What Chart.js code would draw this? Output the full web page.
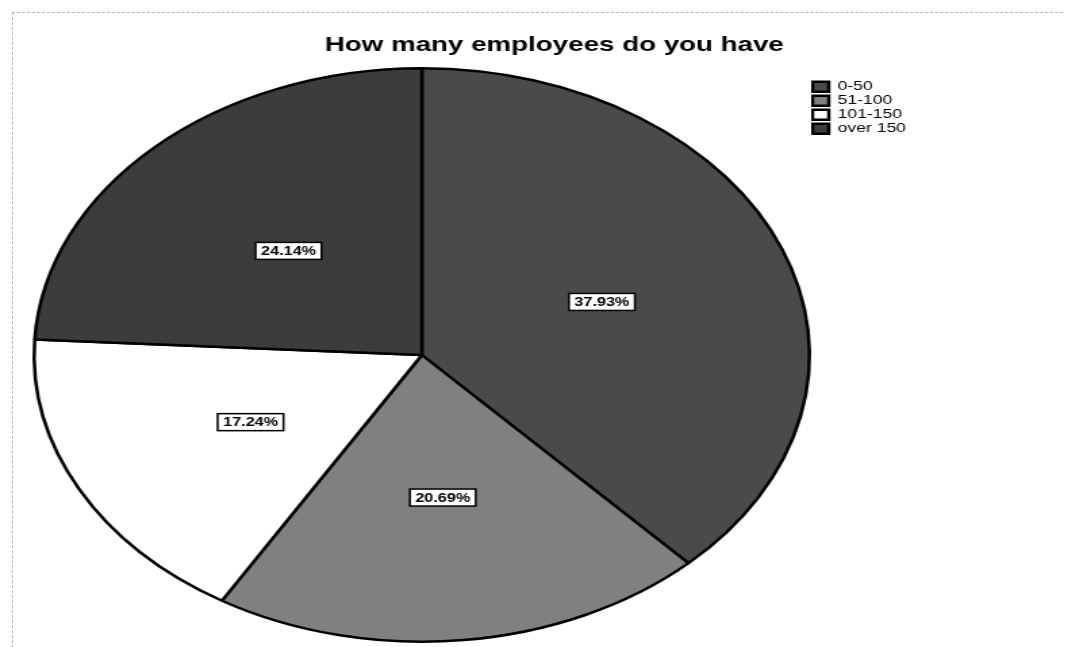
<!DOCTYPE html>
<html>
<head>
<meta charset="utf-8">
<script src="https://cdn.jsdelivr.net/npm/chart.js@4/dist/chart.umd.min.js"></script>
<style>
  html, body { margin: 0; padding: 0; background: #fff; overflow: hidden; }
  #frame {
    position: absolute; left: 12px; top: 12px; width: 1060px; height: 640px;
    border-top: 1px dashed #b5b5b5; border-left: 1px dashed #b5b5b5;
  }
  /* the source picture is stretched sideways, so the whole chart is too */
  #wrap {
    position: absolute; left: 0; top: 0; width: 788px; height: 647px;
    transform: scaleX(1.352); transform-origin: 0 0;
  }
</style>
</head>
<body>
<div id="frame"></div>
<div id="wrap"><canvas id="pie" width="788" height="647"></canvas></div>
<script>
const chartTitle = 'How many employees do you have';
const categories = ['0-50', '51-100', '101-150', 'over 150'];
const counts = [11, 6, 5, 7];
const sliceColors = ['#4a4a4a', '#808080', '#ffffff', '#3c3c3c'];

const FONT = "'Liberation Sans', Arial, sans-serif";

// title drawn over the whole page width, not just the pie area
const titlePlugin = {
  id: 'pageTitle',
  afterDraw(chart) {
    const ctx = chart.ctx;
    ctx.save();
    ctx.font = 'bold 20.5px ' + FONT;
    ctx.fillStyle = '#000';
    ctx.textAlign = 'center';
    ctx.textBaseline = 'middle';
    ctx.fillText(chartTitle, 410, 45);
    ctx.restore();
  }
};

// boxed percentage labels in the middle of each slice
const percentLabels = {
  id: 'percentLabels',
  afterDatasetsDraw(chart) {
    const ctx = chart.ctx;
    const meta = chart.getDatasetMeta(0);
    const data = chart.data.datasets[0].data;
    const total = data.reduce((a, b) => a + b, 0);
    ctx.save();
    ctx.font = 'bold 12px ' + FONT;
    ctx.textAlign = 'center';
    ctx.textBaseline = 'middle';
    meta.data.forEach((arc, i) => {
      const pt = arc.getCenterPoint();
      const text = (data[i] / total * 100).toFixed(2) + '%';
      const w = ctx.measureText(text).width + 8;
      const h = 17;
      ctx.fillStyle = '#fff';
      ctx.fillRect(pt.x - w / 2, pt.y - h / 2, w, h);
      ctx.strokeStyle = '#000';
      ctx.lineWidth = 1.5;
      ctx.strokeRect(pt.x - w / 2, pt.y - h / 2, w, h);
      ctx.fillStyle = '#000';
      ctx.fillText(text, pt.x, pt.y + 1);
    });
    ctx.restore();
  }
};

new Chart(document.getElementById('pie'), {
  type: 'pie',
  data: {
    labels: categories,
    datasets: [{
      data: counts,
      backgroundColor: sliceColors,
      borderColor: '#000',
      borderWidth: 2.5
    }]
  },
  options: {
    responsive: false,
    animation: false,
    layout: {
      padding: { left: 24, top: 67, right: 118, bottom: 4 }
    },
    plugins: {
      title: { display: false },
      tooltip: { enabled: false },
      legend: {
        position: 'right',
        align: 'start',
        maxWidth: 70,
        title: {
          display: true,
          text: '',
          font: { size: 1 },
          padding: { top: 11, bottom: 0 }
        },
        labels: {
          color: '#000',
          boxWidth: 12,
          boxHeight: 10,
          padding: 1,
          font: { family: FONT, size: 13 }
        }
      }
    }
  },
  plugins: [percentLabels, titlePlugin]
});
</script>
</body>
</html>
